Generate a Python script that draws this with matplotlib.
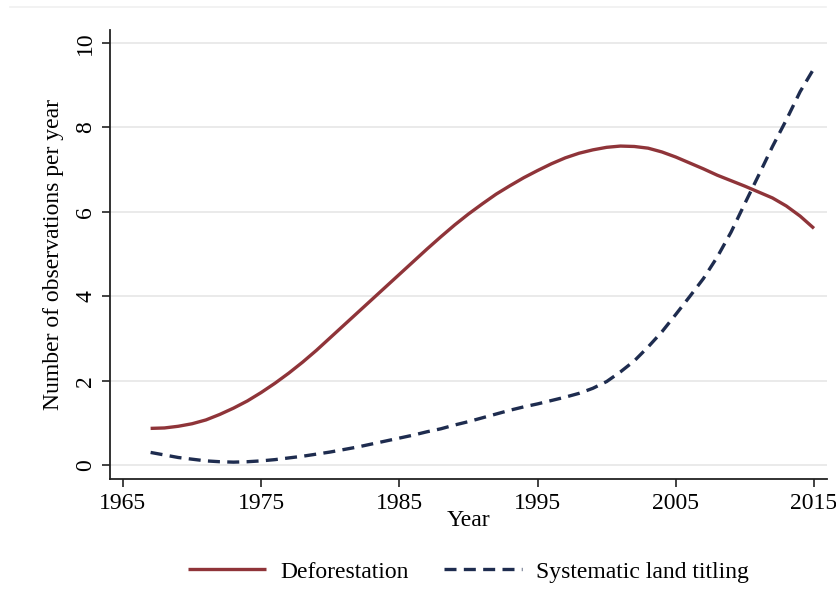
import matplotlib
matplotlib.use("Agg")
from matplotlib import pyplot as plt
from matplotlib.lines import Line2D
import numpy as np

# Observations per year
years = np.arange(1967, 2016)

deforestation = [
    0.87, 0.88, 0.92, 0.98, 1.07, 1.20, 1.35, 1.52, 1.72, 1.94,   # 1967-1976
    2.18, 2.44, 2.72, 3.02, 3.32, 3.62, 3.92, 4.22, 4.52, 4.82,   # 1977-1986
    5.12, 5.41, 5.69, 5.95, 6.19, 6.42, 6.62, 6.81, 6.98, 7.14,   # 1987-1996
    7.28, 7.39, 7.47, 7.53, 7.56, 7.55, 7.51, 7.42, 7.30, 7.16,   # 1997-2006
    7.02, 6.87, 6.74, 6.61, 6.47, 6.33, 6.14, 5.90, 5.61,         # 2007-2015
]

land_titling = [
    0.30, 0.24, 0.18, 0.14, 0.10, 0.08, 0.07, 0.08, 0.10, 0.13,   # 1967-1976
    0.17, 0.21, 0.26, 0.31, 0.37, 0.43, 0.50, 0.57, 0.64, 0.71,   # 1977-1986
    0.79, 0.86, 0.95, 1.03, 1.12, 1.21, 1.30, 1.38, 1.45, 1.53,   # 1987-1996
    1.61, 1.70, 1.82, 1.98, 2.21, 2.47, 2.80, 3.16, 3.57, 3.99,   # 1997-2006
    4.42, 4.93, 5.52, 6.20, 6.87, 7.55, 8.18, 8.85, 9.40,         # 2007-2015
]

series_labels = ["Deforestation", "Systematic land titling"]
x_ticks = [1965, 1975, 1985, 1995, 2005, 2015]
y_ticks = [0, 2, 4, 6, 8, 10]

plt.rcParams['font.family'] = ['Liberation Serif', 'DejaVu Serif']

fig = plt.figure(figsize=(8.37, 6.15), dpi=100)
ax = fig.add_axes([0.1314, 0.2211, 0.8566, 0.7301])

red = '#8f3439'
navy = '#1e2c4f'

ax.plot(years, deforestation, color=red, lw=2.4, solid_capstyle='butt',
        label=series_labels[0])
ax.plot(years, land_titling, color=navy, lw=2.4, linestyle=(0, (3.6, 2.2)),
        label=series_labels[1])

ax.set_xlim(1964.06, 2015.94)
ax.set_ylim(-0.33, 10.31)
ax.set_xticks(x_ticks)
ax.set_yticks(y_ticks)
ax.tick_params(axis='both', labelsize=17, length=6, width=1.2, color='#222222', pad=4)
for lab in ax.get_yticklabels():
    lab.set_rotation(90)
    lab.set_va('center')

ax.grid(axis='y', color='#e6e6e6', lw=1.2)
ax.set_axisbelow(True)
for side in ['top', 'right']:
    ax.spines[side].set_visible(False)
for side in ['left', 'bottom']:
    ax.spines[side].set_linewidth(1.3)
    ax.spines[side].set_color('#222222')

ax.set_xlabel("Year", fontsize=17, labelpad=-3)
ax.set_ylabel("Number of observations per year", fontsize=17, labelpad=8)

fig.legend(loc='center', bbox_to_anchor=(0.5597, 0.070), ncol=2, frameon=False,
           fontsize=17, handlelength=3.3, handletextpad=0.6, columnspacing=1.5)

# faint outer frame line at top of the graph region
fig.add_artist(Line2D([0.012, 0.987], [0.989, 0.989], color='#f0f0f0', lw=1.2))

fig.savefig('out.png', dpi=100)
